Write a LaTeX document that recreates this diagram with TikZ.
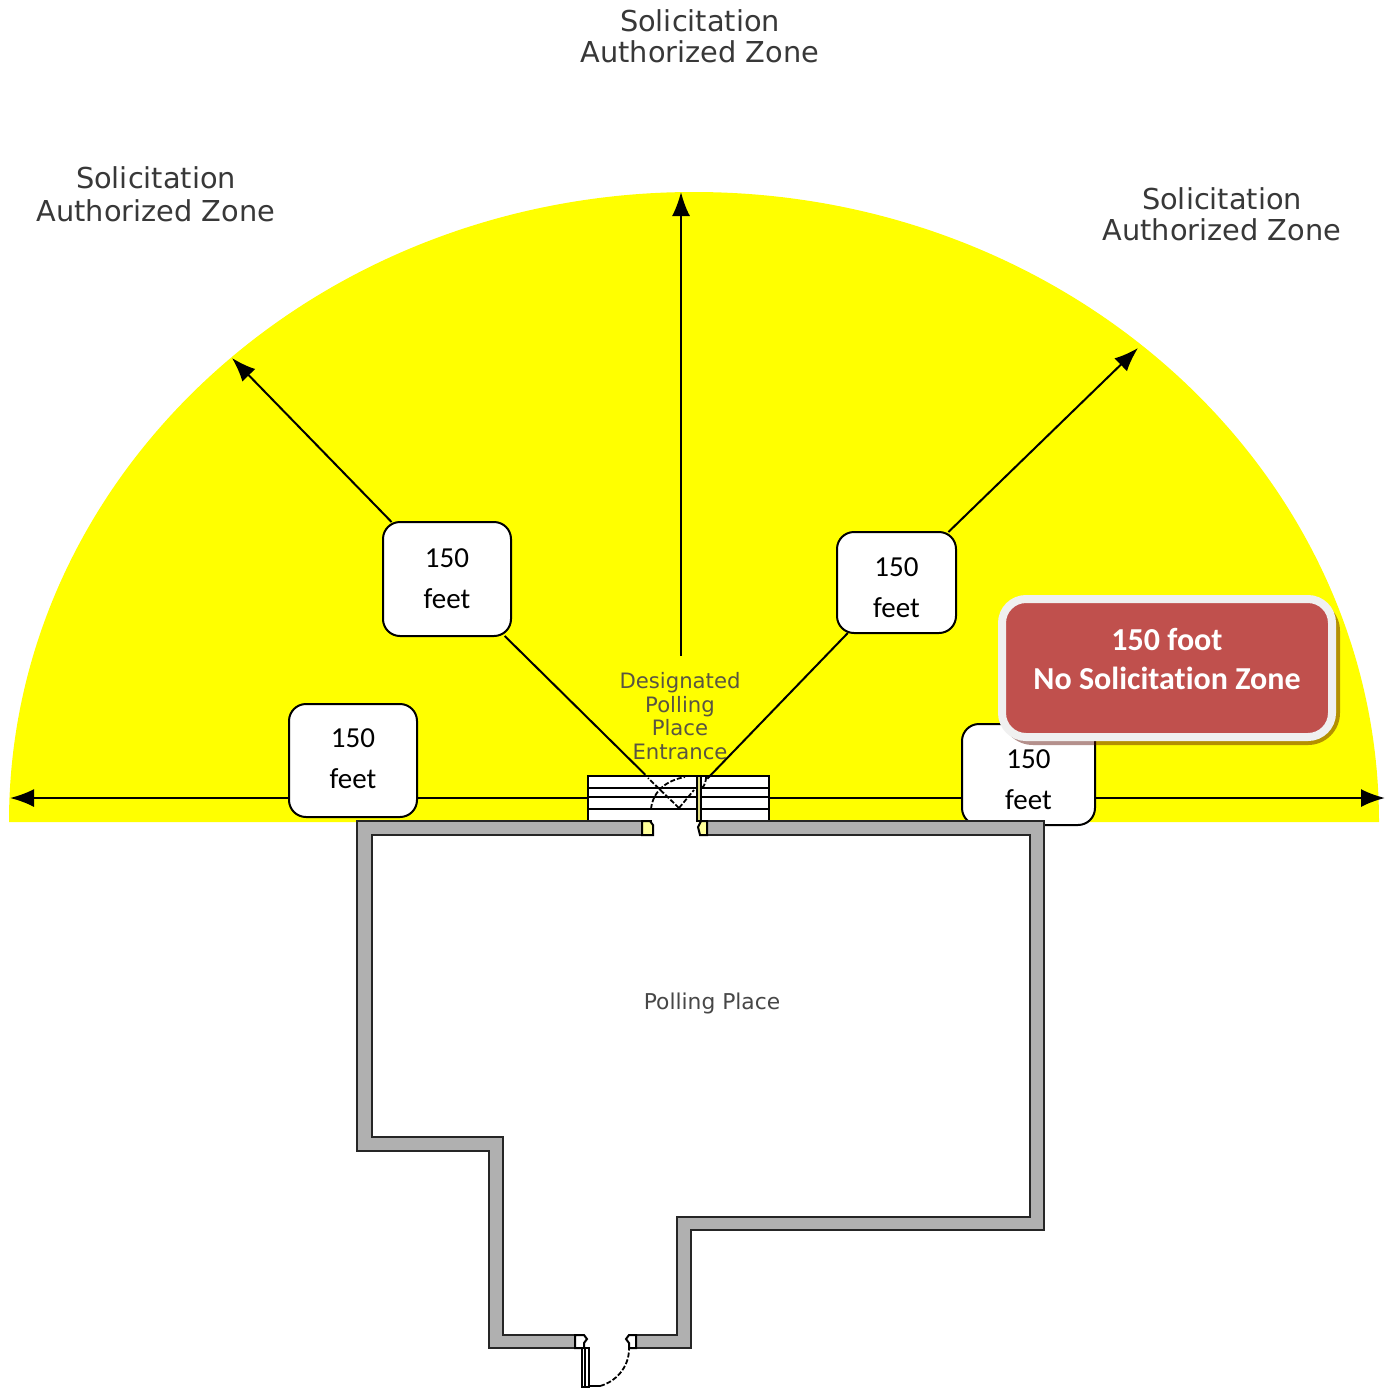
\documentclass[tikz,border=0pt]{standalone}
\usepackage{fontspec}
\setmainfont{Carlito}[Ligatures=NoCommon]
\newfontfamily\labelfont{DejaVu Sans}
\usetikzlibrary{arrows.meta,calc}
\definecolor{zoneyellow}{HTML}{FFFF00}
\definecolor{wallgray}{HTML}{B0B0B0}
\definecolor{redbox}{HTML}{C0504D}
\definecolor{borderwhite}{HTML}{F0F0F0}
\definecolor{jamb}{HTML}{FFFF99}
\definecolor{leaf}{HTML}{E0DC80}
\definecolor{shadowc}{HTML}{590B00}
\tikzset{
  every node/.style={outer sep=0pt},
  distbox/.style={draw=black,fill=white,line width=1pt,rounded corners=8.5pt,inner sep=0pt,align=center,font=\fontsize{14.5}{20.5}\selectfont},
  zonelabel/.style={font=\labelfont\fontsize{14.4}{15.5}\selectfont,text=black!78,align=center,inner sep=0pt},
  dist/.style={line width=1pt,-{Latex[length=12pt,width=9pt]}},
  plain/.style={line width=1pt},
  wall/.style={fill=wallgray,draw=black!85,line width=1.4pt},
  swing/.style={line width=.9pt,black,dash pattern=on 2.5pt off 1pt}
}
\begin{document}
\begin{tikzpicture}[x=.5pt,y=-.5pt]
\useasboundingbox (0,0) rectangle (1387,1388);
\fill[white] (0,0) rectangle (1387,1388);
% zone
\fill[zoneyellow] (9,822) arc[start angle=180,end angle=0,x radius=342.5pt,y radius=315pt] -- cycle;
% named points
\coordinate (tipW) at (10,798);
\coordinate (tipE) at (1385,798);
\coordinate (tipN) at (681,192);
\coordinate (tipNW) at (232,358);
\coordinate (tipNE) at (1138,348);
\coordinate (hub) at (679,808);
% labels
\node[zonelabel] (ltop) at (700,36) {Solicitation\\Authorized Zone};
\node[zonelabel,font=\labelfont\fontsize{14.4}{16.5}\selectfont] (lleft) at (156,194) {Solicitation\\Authorized Zone};
\node[zonelabel] (lright) at (1222,214) {Solicitation\\Authorized Zone};
\node[font=\labelfont\fontsize{10.6}{11.7}\selectfont,text=yellow!25!black,align=center,inner xsep=0pt,inner ysep=8.5pt] (entr) at (680,716) {Designated\\Polling\\Place\\Entrance};
\node[font=\labelfont\fontsize{10.9}{12}\selectfont,text=black!72,inner sep=0pt] (pp) at (712,1003) {Polling Place};
% boxes
\node[distbox,minimum width=64pt,minimum height=57pt] (boxA) at (447,579) {150\\feet};
\node[distbox,minimum width=59.5pt,minimum height=50.5pt] (boxB) at (896.5,582.5) {\rule{0pt}{14.2pt}150\\feet};
\node[distbox,minimum width=64pt,minimum height=56.5pt] (boxC) at (353,760.5) {150\\feet\rule[-1.5pt]{0pt}{1.5pt}};
\node[distbox,minimum width=66.5pt,minimum height=50.5pt] (boxD) at (1028.5,774.5) {\rule{0pt}{14.2pt}150\\feet};
% stairs as node
\node[draw=black,fill=white,line width=1.2pt,minimum width=90.5pt,minimum height=22.5pt,inner sep=0pt] (stairs) at (678.5,798.5) {};
% connectors
\draw[dist] (boxC.west |- tipW) -- (tipW);
\draw[dist] (boxD.east |- tipE) -- (tipE);
\draw[plain] (boxC.east |- tipW) -- (stairs.west |- tipW);
\draw[plain] (stairs.east |- tipE) -- (boxD.west |- tipE);
\draw[dist] (entr.north -| tipN) -- (tipN);
\draw[dist] (boxA) -- (tipNW);
\draw[dist] (boxB) -- (tipNE);
\draw[plain] (boxA) -- ($(boxA)!0.855!(hub)$);
\draw[plain] (boxB) -- ($(boxB)!0.87!(hub)$);
% stairs treads
\foreach \yy in {788,797,809} \draw[line width=1.2pt] (588,\yy) -- (769,\yy);
\fill[white] (652,810) rectangle (696,824);
% walls
\draw[wall] (648,821) -- (357,821) -- (357,1151) -- (489,1151) -- (489,1348) -- (580,1348) -- (580,1335) -- (503,1335) -- (503,1137) -- (372,1137) -- (372,835) -- (648,835) -- cycle;
\draw[wall] (702,821) -- (1044,821) -- (1044,1230) -- (691,1230) -- (691,1348) -- (632,1348) -- (632,1335) -- (677,1335) -- (677,1217) -- (1030,1217) -- (1030,835) -- (702,835) -- cycle;
% entrance door details
\draw[line width=1pt,fill=jamb] (642,821) -- (650,821) -- (653,825) -- (653,835) -- (642,835) -- cycle;
\draw[line width=1pt,fill=jamb] (707,821) -- (701,821) -- (698,827) -- (700,835) -- (707,835) -- cycle;
\draw[line width=1pt,fill=leaf] (697,776) rectangle (701,821);
\draw[swing] (651,809) .. controls (653,790) and (668,780) .. (685,777);
\draw[swing] (hub) -- (648,778);
\draw[swing] (hub) -- (694,790);
\draw[swing] (702,788) .. controls (705,785) and (706,781) .. (706,777);
% rear door details
\draw[line width=1pt,fill=white] (575,1335) -- (584,1335) -- (587,1339) -- (584,1343) -- (584,1348) -- (575,1348) -- cycle;
\draw[line width=1pt,fill=white] (636,1335) -- (629,1335) -- (626,1339) -- (629,1343) -- (629,1348) -- (636,1348) -- cycle;
\draw[line width=1pt,fill=white] (582,1348) rectangle (589,1387);
\draw[line width=1pt] (585,1348) -- (585,1387);
\draw[line width=1pt] (589,1386) -- (600,1386);
\draw[swing] (600,1386) .. controls (615,1382) and (629,1368) .. (629,1349);
% legend box
\fill[shadowc,opacity=.45,rounded corners=16pt] (1001,599) rectangle (1340,745);
\node[draw=borderwhite,fill=redbox,line width=4pt,rounded corners=12pt,minimum width=165pt,minimum height=69pt,inner sep=0pt] (legend) at (1167,668) {};
\node[text=white,font=\fontsize{16}{19.5}\selectfont\bfseries,align=center,inner sep=0pt] (legendtext) at (1167,659) {150 foot\\No Solicitation Zone};
\end{tikzpicture}
\end{document}
